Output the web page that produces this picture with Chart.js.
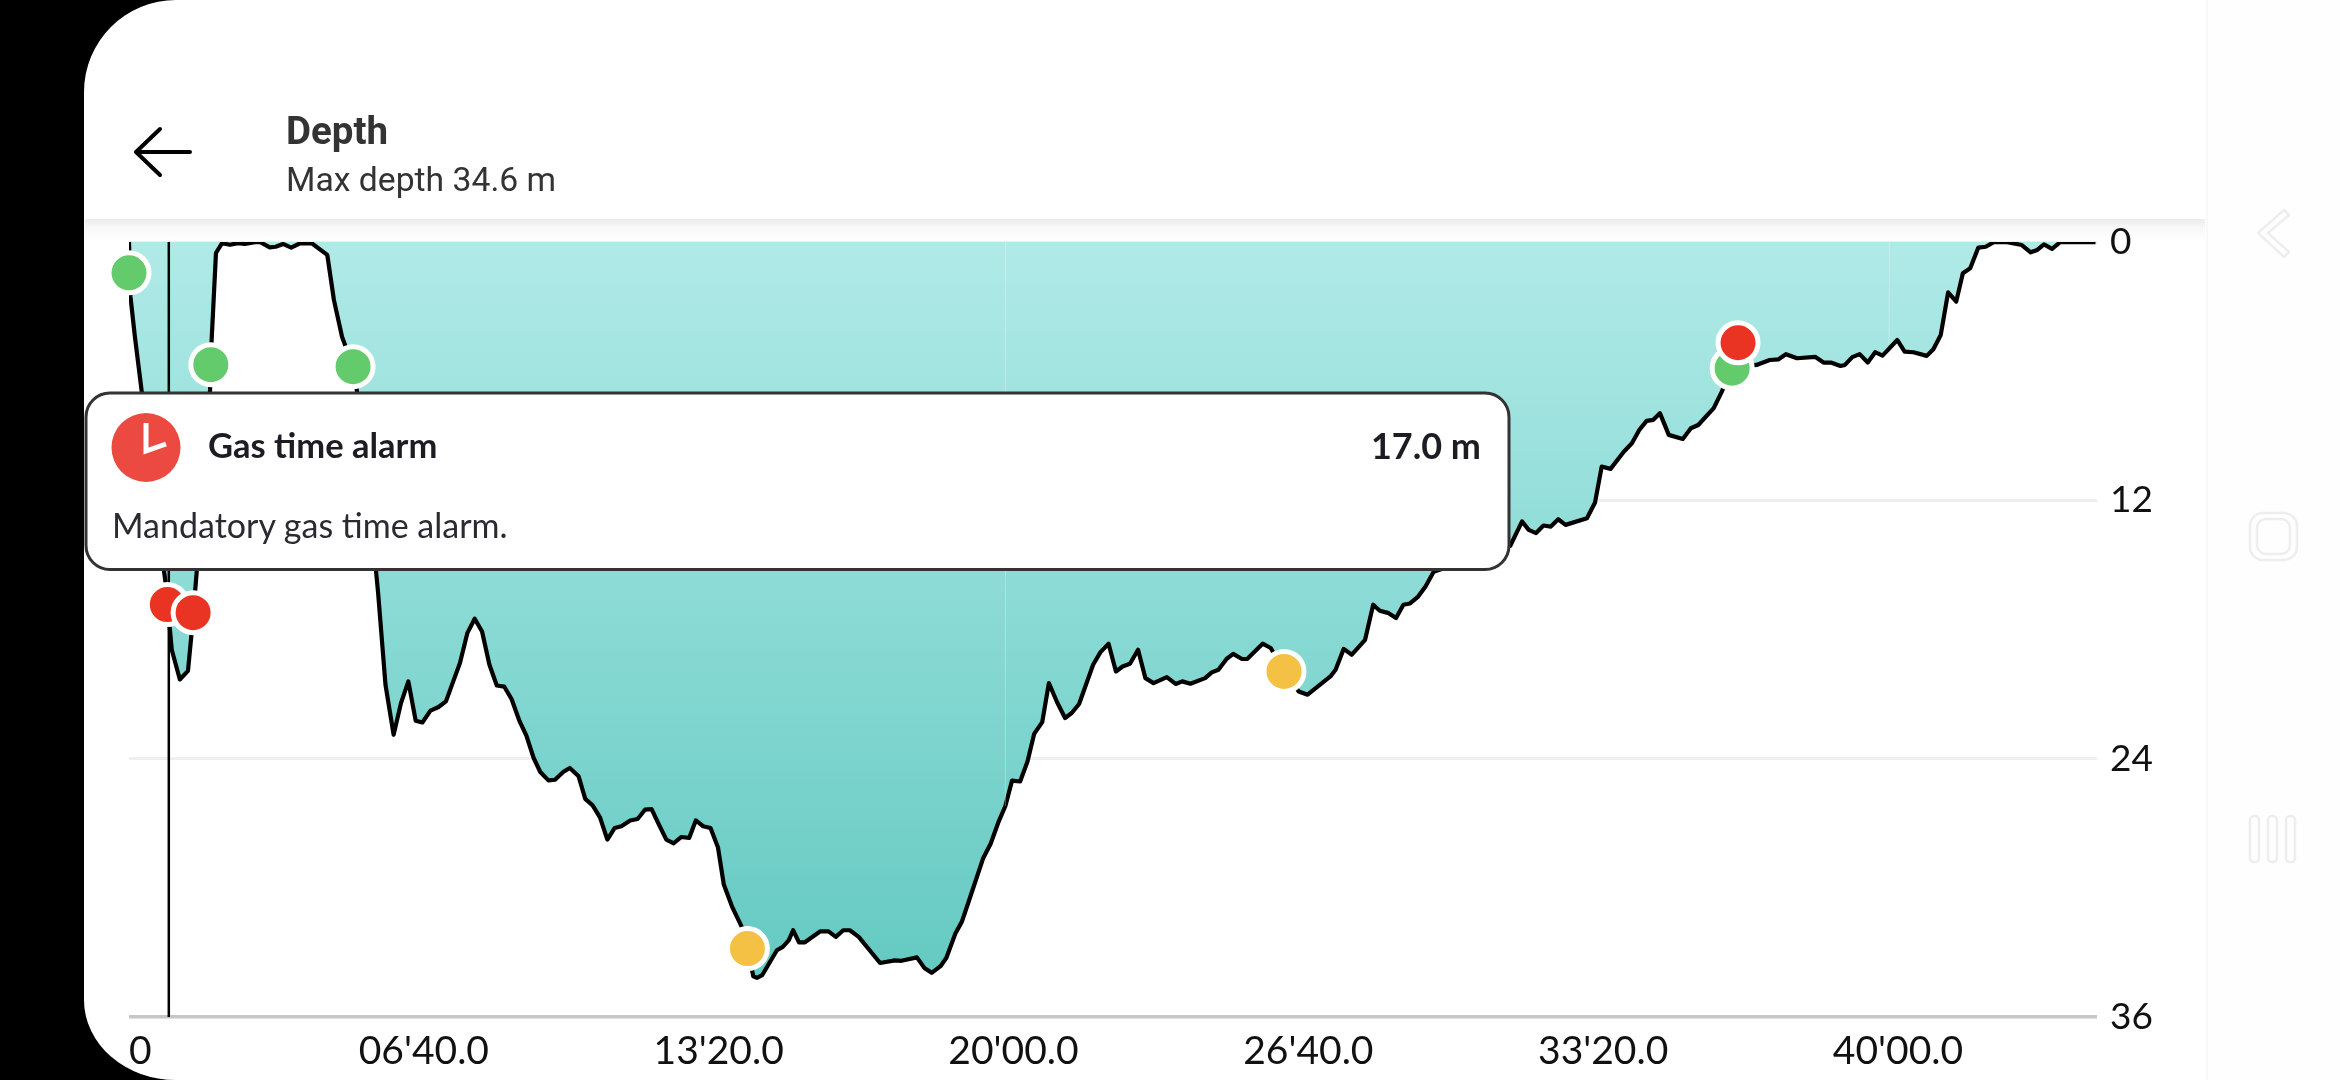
<!DOCTYPE html>
<html><head><meta charset="utf-8">
<style>
html,body{margin:0;padding:0;width:2340px;height:1080px;overflow:hidden;background:#000}
#screen{position:absolute;left:84px;top:0;width:2256px;height:1080px;background:#fff;border-radius:92px 0 0 92px/92px 0 0 80px}
#shadow{position:absolute;left:85px;top:219px;width:2120px;height:22px;background:linear-gradient(#ebebeb,#f7f7f7 35%,#fff)}
#nav{position:absolute;left:2206px;top:0;width:134px;height:1080px;background:#fefefe;border-left:2px solid #f8f8f8}
canvas{position:absolute;left:0;top:0}
#over{position:absolute;left:0;top:0}
</style></head><body>
<div id="screen"></div><div id="shadow"></div><div id="nav"></div>
<canvas id="c" width="2340" height="1080"></canvas>
<svg id="over" width="2340" height="1080" xmlns="http://www.w3.org/2000/svg">
  <path d="M190 152H136M160 129L136 152L160 175" fill="none" stroke="#000" stroke-width="4" stroke-linecap="round" stroke-linejoin="round"/>
  <text x="286" y="144" font-family="Roboto" font-weight="700" font-size="38.5" fill="#333">Depth</text>
  <text x="286" y="191" font-family="Roboto" font-size="33.7" fill="#333">Max depth 34.6 m</text>
  <rect x="86" y="393" width="1423" height="176.5" rx="24" fill="#fff" stroke="#333" stroke-width="3"/>
  <circle cx="146" cy="447.5" r="34.5" fill="#ec4a41"/>
  <path d="M146 423V451L166 444" fill="none" stroke="#fff" stroke-width="5"/>
  <text x="208" y="458" font-family="Lato" font-weight="700" font-size="34.5" fill="#1c1d22">Gas time alarm</text>
  <text x="1481" y="459" text-anchor="end" font-family="Lato" font-weight="700" font-size="36" fill="#1c1d22">17.0 m</text>
  <text x="112" y="538" font-family="Lato" font-size="34" fill="#2a2b30">Mandatory gas time alarm.</text>
  <g fill="none" stroke="#eeeeee" stroke-width="2.5" stroke-linejoin="round" stroke-linecap="round">
    <path d="M2284 210L2258 233L2284 257L2289 252L2268 233L2289 215Z"/>
    <rect x="2250" y="513" width="47" height="47" rx="13"/>
    <rect x="2257" y="519" width="33" height="35" rx="9"/>
    <rect x="2250" y="816" width="9" height="46" rx="4"/>
    <rect x="2268" y="816" width="9" height="46" rx="4"/>
    <rect x="2286" y="816" width="9" height="46" rx="4"/>
  </g>
</svg>
<script src="https://cdn.jsdelivr.net/npm/chart.js@4/dist/chart.umd.min.js"></script>
<script>
const timeSeconds = [0,2,8,17,47,50,58,69,80,85,92,110,112,118,126,137,148,157,171,178,191,199,209,220,232,248,269,278,289,304,309,335,338,348,359,369,379,389,398,409,420,430,449,459,469,479,489,499,509,519,530,539,549,558,569,578,589,598,610,619,629,639,649,659,668,680,690,700,709,718,729,739,749,760,769,779,789,799,807,818,831,839,847,852,859,879,887,895,901,909,917,938,949,959,969,978,990,1019,1039,1048,1069,1079,1089,1101,1109,1121,1130,1139,1159,1169,1180,1189,1198,1209,1219,1228,1239,1248,1259,1270,1279,1289,1308,1318,1329,1339,1348,1358,1369,1379,1390,1408,1420,1429,1440,1460,1469,1478,1489,1498,1510,1517,1538,1549,1567,1587,1599,1630,1637,1648,1659,1677,1688,1697,1709,1719,1729,1738,1749,1759,1770,1874,1890,1899,1909,1919,1929,1939,1949,1978,1989,1998,2010,2028,2039,2049,2059,2068,2077,2089,2108,2119,2129,2150,2161,2175,2208,2226,2238,2248,2263,2288,2299,2309,2322,2328,2338,2348,2359,2369,2379,2399,2409,2421,2439,2448,2458,2468,2479,2488,2498,2509,2519,2530,2548,2568,2580,2589,2598,2609,2620,2668];
const depthMetres = [0,2.54,4.40,6.87,15.18,15.92,18.94,20.32,19.92,18.15,15.27,6.87,4.63,0.51,0.06,0.13,0.05,0.09,0.01,0.01,0.25,0.22,0.09,0.26,0.06,0.06,0.60,2.69,4.40,5.79,6.87,15.23,16.31,20.57,22.89,21.42,20.41,22.24,22.32,21.77,21.60,21.34,19.56,18.17,17.50,18.09,19.64,20.60,20.65,21.23,22.27,22.92,23.97,24.62,25.01,24.98,24.62,24.43,24.82,25.87,26.17,26.73,27.76,27.22,27.14,26.87,26.80,26.37,26.34,26.99,27.76,27.93,27.64,27.68,26.87,27.14,27.22,28.11,29.85,30.86,31.79,32.82,34.11,34.18,34.06,32.90,32.74,32.44,31.97,32.53,32.53,32.02,32.02,32.28,31.97,31.97,32.28,33.49,33.37,33.39,33.23,33.72,33.95,33.64,33.25,32.13,31.57,30.66,28.61,27.95,26.91,26.20,25.02,25.06,24.13,22.85,22.30,20.49,21.37,22.11,21.88,21.46,19.64,19.05,18.66,19.95,19.72,19.59,18.94,20.26,20.49,20.21,20.53,20.41,20.52,20.26,19.99,19.87,19.37,19.13,19.37,19.37,18.66,18.86,19.95,20.88,21.03,20.18,19.87,18.90,19.17,18.48,16.85,17.13,17.24,17.47,16.85,16.79,16.47,16.00,15.32,14.11,12.98,13.37,13.52,13.17,13.22,12.88,13.14,12.83,12.10,10.43,10.54,9.74,9.35,8.73,8.31,8.26,7.95,8.96,9.15,8.65,8.50,7.72,6.95,5.86,5.71,5.48,5.45,5.21,5.40,5.34,5.60,5.60,5.76,5.71,5.35,5.21,5.60,5.12,5.28,4.55,5.09,5.12,5.29,4.98,4.32,2.34,2.77,1.45,1.22,0.26,0.22,0.01,0.01,0.14,0.48,0.37,0.11,0.32,0.01,0.01];
const greenTimes = [0,111,304,2175];
const greenDepths = [1.43,5.70,5.79,5.86];
const redTimes = [52,87,2183];
const redDepths = [16.84,17.22,4.68];
const amberTimes = [839,1567];
const amberDepths = [32.82,19.95];
const cursorTime = 54;
const seamTimes = [1189,2388];
const seamDepths = [26.20,4.70];
const timeMax = 2670;
const timeTicks = [0,400,800,1200,1600,2000,2400];
const timeTickLabels = ["0","06'40.0","13'20.0","20'00.0","26'40.0","33'20.0","40'00.0"];
const depthTicks = [0,12,24,36];

const pts = (xs, ys) => xs.map((x, i) => ({x, y: ys[i]}));
const marker = (label, xs, ys, color, order) => ({
  type: 'scatter', label, data: pts(xs, ys), order, clip: false, showLine: false,
  pointRadius: 20, pointBorderWidth: 5, pointBackgroundColor: color, pointBorderColor: '#fff', pointHoverRadius: 20
});
const seamData = [];
seamTimes.forEach((t, i) => { seamData.push({x: t, y: 0}, {x: t, y: seamDepths[i]}, {x: t, y: NaN}); });

new Chart(document.getElementById('c'), {
  type: 'line',
  data: { datasets: [
    marker('Alarm', redTimes, redDepths, '#e93424', 1),
    marker('Notice', greenTimes, greenDepths, '#63cb6b', 2),
    marker('Warning', amberTimes, amberDepths, '#f4c145', 2),
    { label: 'Cursor', data: [{x: cursorTime, y: 0}, {x: cursorTime, y: 36}], borderColor: '#000', borderWidth: 2.5, pointRadius: 0, order: 3, fill: false },
    { label: 'Depth', data: pts(timeSeconds, depthMetres), borderColor: '#000', borderWidth: 4.2, borderJoinStyle: 'round', pointRadius: 0, tension: 0, order: 4,
      fill: {target: 'origin'},
      backgroundColor: ctx => {
        const a = ctx.chart.chartArea;
        if (!a) return '#8fdcd6';
        const g = ctx.chart.ctx.createLinearGradient(0, a.top, 0, a.top + 775);
        g.addColorStop(0, '#b0eae7');
        g.addColorStop(1, '#60c8c0');
        return g;
      } },
    { label: 'Seams', data: seamData, borderColor: 'rgba(255,255,255,0.12)', borderWidth: 1, pointRadius: 0, order: 3.5, fill: false, spanGaps: false }
  ]},
  options: {
    responsive: false, animation: false, events: [],
    layout: { padding: { left: 129, top: 242, right: 0, bottom: 0 } },
    plugins: { legend: {display: false}, tooltip: {enabled: false} },
    scales: {
      x: { type: 'linear', min: 0, max: timeMax,
        afterFit: s => { s.height = 63; },
        afterBuildTicks: s => { s.ticks = timeTicks.concat([timeMax]).map(value => ({value})); },
        grid: {display: false, drawTicks: false}, border: {display: false},
        ticks: { autoSkip: false, maxRotation: 0, align: 'inner', padding: 11, color: '#111',
          font: {family: 'Lato', size: 39},
          callback: v => { const i = timeTicks.indexOf(v); return i < 0 ? '' : timeTickLabels[i]; } } },
      y: { type: 'linear', position: 'right', reverse: true, min: depthTicks[0], max: depthTicks[3],
        afterFit: s => { s.width = 243; },
        afterBuildTicks: s => { s.ticks = depthTicks.map(value => ({value})); },
        border: {display: false},
        grid: { drawTicks: false, lineWidth: c => c.tick && c.tick.value === 36 ? 3.5 : 3, color: c => c.tick.value === 36 ? '#c6c6c6' : '#efefef' },
        ticks: { padding: 13, color: '#111', font: {family: 'Lato', size: 37}, callback: v => String(v) } }
    }
  }
});
</script>
</body></html>
